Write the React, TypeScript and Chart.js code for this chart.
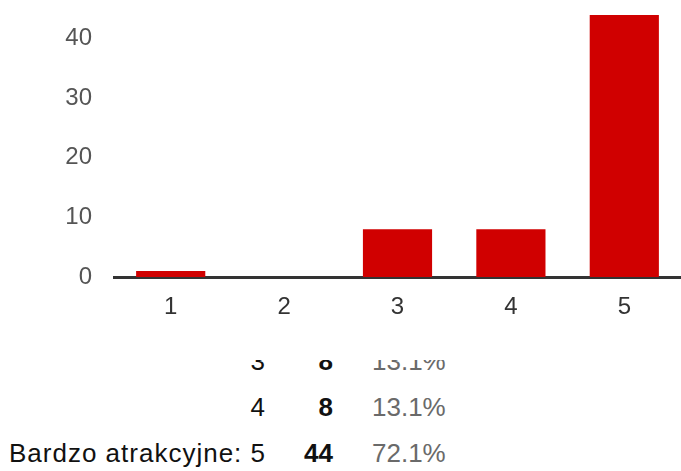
import React, { useEffect, useRef } from "react";
import { Chart, registerables } from "chart.js";

Chart.register(...registerables);

const categories = ["1", "2", "3", "4", "5"];
const counts = [1, 0, 8, 8, 44];
const yTicks = [0, 10, 20, 30, 40];

const tableLabels = ["3", "4", "Bardzo atrakcyjne: 5"];
const tableCounts = [8, 8, 44];
const tablePercents = ["13.1%", "13.1%", "72.1%"];

const FONT = "'Liberation Sans', Arial, sans-serif";
const TICK_FONT = "'Liberation Sans Narrow', 'Liberation Sans', Arial, sans-serif";

export default function App() {
  const ref = useRef<HTMLCanvasElement | null>(null);

  useEffect(() => {
    if (!ref.current) return;
    const chart = new Chart(ref.current, {
      type: "bar",
      data: {
        labels: categories,
        datasets: [
          {
            data: counts,
            backgroundColor: "#d00000",
            borderWidth: 0,
            barPercentage: 0.61,
            categoryPercentage: 1,
          },
        ],
      },
      options: {
        animation: false,
        responsive: true,
        maintainAspectRatio: false,
        layout: { padding: 0 },
        plugins: {
          legend: { display: false },
          tooltip: { enabled: false },
        },
        scales: {
          x: {
            z: 1,
            grid: { display: false, drawTicks: false },
            border: { display: true, color: "#333333", width: 3 },
            ticks: {
              color: "#333333",
              font: { family: TICK_FONT, size: 24 },
              padding: 16,
              maxRotation: 0,
            },
            afterFit: (scale: any) => {
              scale.height = 53;
              scale.paddingLeft = 0;
              scale.paddingRight = 0;
            },
          },
          y: {
            min: 0,
            max: 46.5,
            grid: { display: false, drawTicks: false },
            border: { display: false },
            afterBuildTicks: (scale: any) => {
              scale.ticks = yTicks.map((v) => ({ value: v }));
            },
            ticks: {
              color: "#555555",
              font: { family: TICK_FONT, size: 24 },
              padding: 22,
            },
            afterFit: (scale: any) => {
              scale.width = 114;
              scale.paddingTop = 0;
              scale.paddingBottom = 0;
            },
          },
        },
      },
    });
    return () => chart.destroy();
  }, []);

  const rowTops = [338, 384, 430];

  return (
    <div
      style={{
        position: "fixed",
        left: 0,
        top: 0,
        width: 681,
        height: 471,
        overflow: "hidden",
        background: "#ffffff",
        fontFamily: FONT,
      }}
    >
      <div style={{ position: "absolute", left: 0, top: 0, width: 681, height: 330 }}>
        <canvas ref={ref} />
      </div>
      <div
        style={{
          position: "absolute",
          left: 0,
          top: 360,
          width: 681,
          height: 111,
          overflow: "hidden",
        }}
      >
        {tableLabels.map((lab, i) => (
          <div
            key={i}
            style={{
              position: "absolute",
              left: 0,
              top: rowTops[i] - 360,
              width: 681,
              height: 46,
              lineHeight: "46px",
              fontSize: 26,
              whiteSpace: "nowrap",
            }}
          >
            <span
              style={{
                position: "absolute",
                right: 681 - 266,
                color: "#111111",
                letterSpacing: "1px",
              }}
            >
              {lab}
            </span>
            <span
              style={{
                position: "absolute",
                right: 681 - 333,
                color: "#111111",
                fontWeight: "bold",
              }}
            >
              {tableCounts[i]}
            </span>
            <span
              style={{
                position: "absolute",
                left: 372,
                color: "#6a6a6a",
              }}
            >
              {tablePercents[i]}
            </span>
          </div>
        ))}
      </div>
    </div>
  );
}
